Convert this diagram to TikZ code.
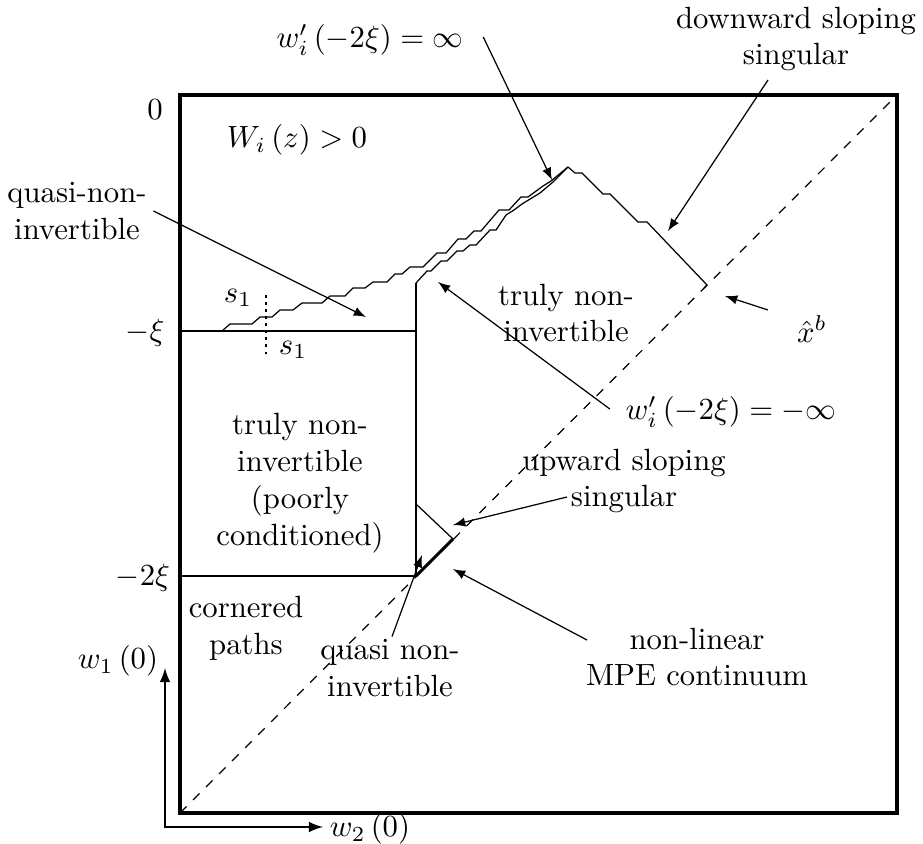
\documentclass[tikz,border=0pt]{standalone}
\usetikzlibrary{calc}
\begin{document}
\begin{tikzpicture}[>=latex, x=0.01145cm, y=-0.01145cm,
    lbl/.style={inner sep=2pt, align=center}]
    \useasboundingbox (0,0) rectangle (923,843);
    % Frame and 45 degree line
    \draw[line width=1pt] (180,95) rectangle (897,813);
    \draw[dashed] (180,813) -- (897,95);
    % Axes
    \draw[semithick, <->] (165,668) |- (323,827);
    % Thresholds at -xi and -2xi
    \draw (180,331) -- (416,331);
    \draw (180,576) -- (416,576) -- (416,283);
    % Upper staircase
    \draw (222,331) -- (230,324) -- (252,324) -- (260,317) -- (272,317) -- (280,310)
        -- (293,310) -- (302,303) -- (322,303) -- (330,296) -- (345,296) -- (353,288)
        -- (365,288) -- (373,282) -- (387,282) -- (395,274) -- (402,274) -- (410,267)
        -- (423,267) -- (437,253) -- (446,253) -- (458,239) -- (466,239) -- (474,231)
        -- (481,231) -- (499,210) -- (509,210) -- (521,197) -- (528,197) -- (543,186)
        -- (551,181) -- (568,167);
    % Lower staircase
    \draw (416,283) -- (427,271) -- (431,271) -- (441,261) -- (447,261) -- (457,251)
        -- (463,251) -- (470,245) -- (476,245) -- (490,230) -- (496,230) -- (506,215)
        -- (514,210) -- (522,204) -- (540,193) -- (553,182) -- (568,167);
    % Downward sloping branch
    \draw (568,167) -- (575,173) -- (582,173) -- (603,194) -- (610,194) -- (638,222)
        -- (647,222) -- (707,285) -- (704,288);
    % Small triangle and continuum
    \draw (416,504) -- (453,539);
    \draw[line width=1pt] (416,576) -- (453,539);
    % s1 marker
    \draw[line width=0.9pt, dash pattern=on 0.9pt off 1.4pt] (266,295) -- (266,356);
    % Tips
    \coordinate (tipQ) at (366,317);
    \coordinate (tipInf) at (552,180);
    \coordinate (tipDown) at (668,231);
    \coordinate (tipMinf) at (438,282);
    \coordinate (tipUp) at (453,525);
    \coordinate (tipMPE) at (453,569);
    \coordinate (tipQ2) at (422,555);
    \coordinate (tipXb) at (725,296);
    % Labels
    \node[lbl] (zero) at (155,110) {$0$};
    \node[lbl] (mxi) at (145,333) {$-\xi$};
    \node[lbl] (mtwoxi) at (143,578) {$-2\xi$};
    \node[lbl] (wone) at (118,661) {$w_1\left(0\right)$};
    \node[lbl] (wtwo) at (370,829) {$w_2\left(0\right)$};
    \node[lbl] (Wpos) at (297,140) {$W_i\left(z\right)>0$};
    \node[lbl] (winf) at (370,40) {$w_i'\left(-2\xi\right)=\infty$};
    \node[lbl] (dss) at (796,39) {downward sloping\\singular};
    \node[lbl] (qni) at (77,211) {quasi-non-\\invertible};
    \node[lbl] (sa) at (238,298) {$s_1$};
    \node[lbl] (sb) at (293,350) {$s_1$};
    \node[lbl] (tni) at (566,313) {truly non-\\invertible};
    \node[lbl] (xb) at (812,329) {$\hat{x}^b$};
    \node[lbl] (wminf) at (731,412) {$w_i'\left(-2\xi\right)=-\infty$};
    \node[lbl] (tnipc) at (300,483) {truly non-\\invertible\\(poorly\\conditioned)};
    \node[lbl] (uss) at (624,481) {upward sloping\\singular};
    \node[lbl] (cp) at (246,628) {cornered\\paths};
    \node[lbl] (qni2) at (390,668) {quasi non-\\invertible};
    \node[lbl] (nlm) at (697,657) {non-linear\\MPE continuum};
    % Arrows
    \draw[->] (qni.east) -- (tipQ);
    \draw[->] ($(winf.east)+(13,-3)$) -- (tipInf);
    \draw[->] ($(dss.center)+(-28,41)$) -- (tipDown);
    \draw[->] ($(wminf.west)+(-9,-3)$) -- (tipMinf);
    \draw[->] ($(uss.center)+(-57,16)$) -- (tipUp);
    \draw[->] ($(nlm.center)+(-110,-17)$) -- (tipMPE);
    \draw[->] ($(qni2.north)+(2,4)$) -- (tipQ2);
    \draw[->] ($(xb.center)+(-44,-19)$) -- (tipXb);
\end{tikzpicture}
\end{document}
